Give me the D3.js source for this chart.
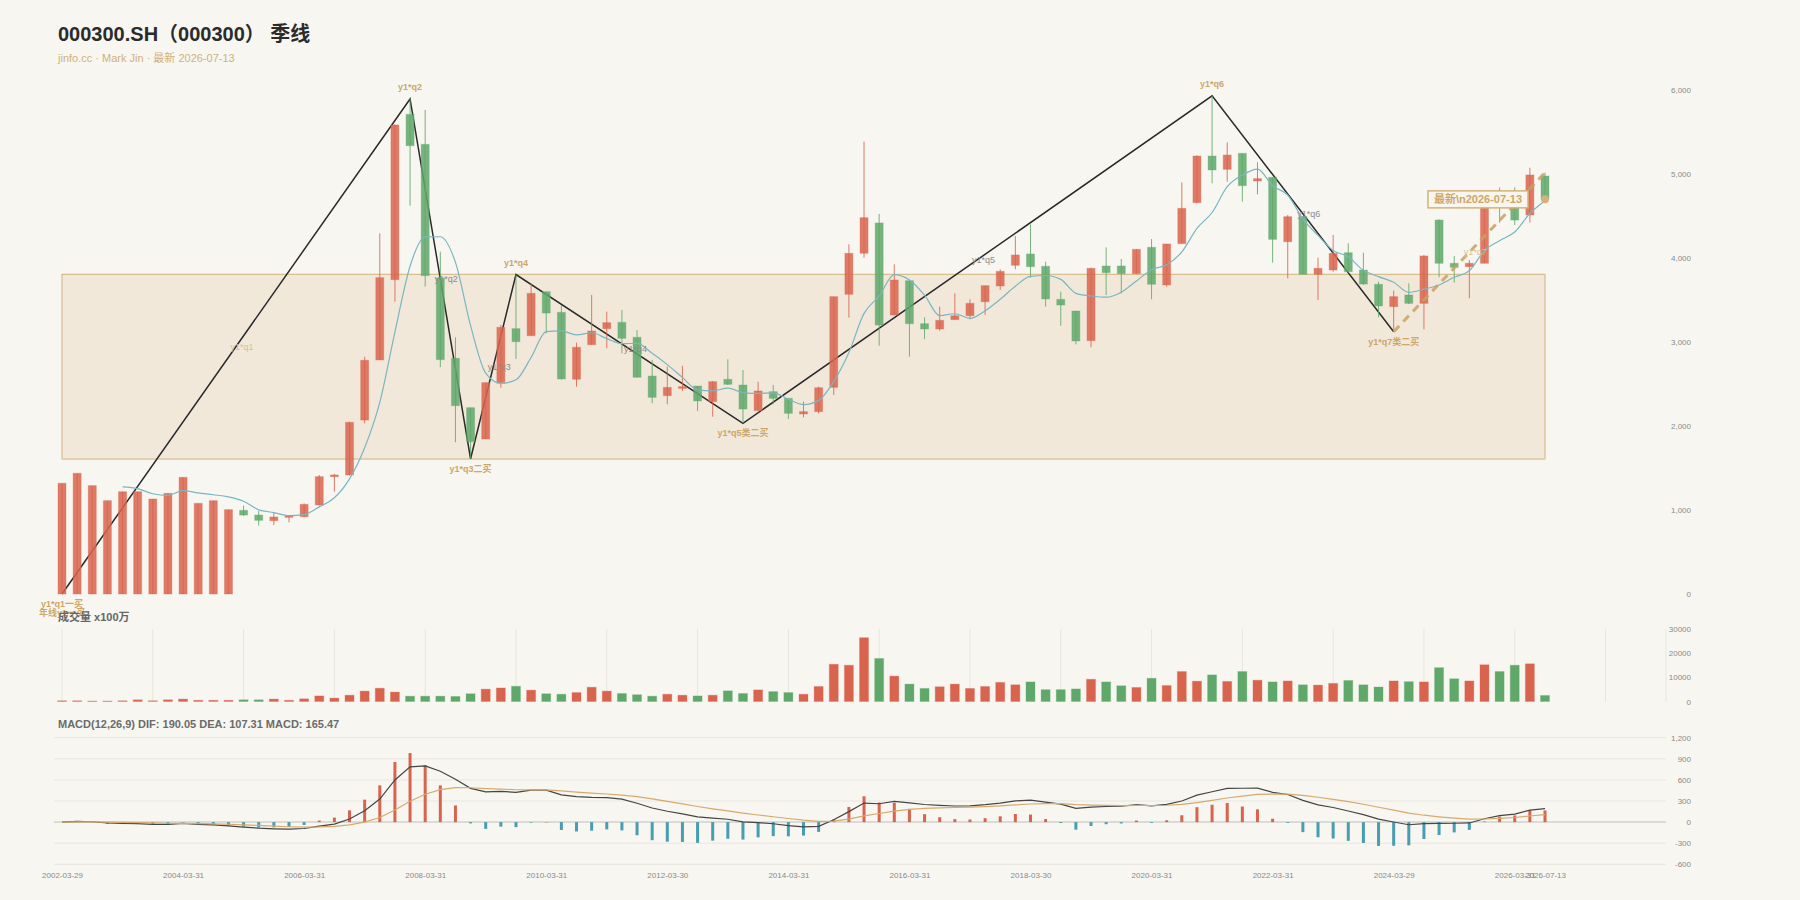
<!DOCTYPE html>
<html><head><meta charset="utf-8">
<script src="https://cdn.jsdelivr.net/npm/d3@7"></script>
<style>
body{margin:0;background:#f7f6f1;}
svg{display:block;font-family:"Liberation Sans",Arial,"Noto Sans CJK SC",sans-serif;}
</style></head><body><svg id="c" width="1800" height="900"></svg>
<script>
const dates=["2002-03-29","2002-06-28","2002-09-27","2002-12-31","2003-03-31","2003-06-30","2003-09-30","2003-12-31","2004-03-31","2004-06-30","2004-09-30","2004-12-31","2005-03-31","2005-06-30","2005-09-30","2005-12-30","2006-03-31","2006-06-30","2006-09-29","2006-12-29","2007-03-30","2007-06-29","2007-09-28","2007-12-28","2008-03-31","2008-06-30","2008-09-30","2008-12-31","2009-03-31","2009-06-30","2009-09-30","2009-12-31","2010-03-31","2010-06-30","2010-09-30","2010-12-31","2011-03-31","2011-06-30","2011-09-30","2011-12-30","2012-03-30","2012-06-29","2012-09-28","2012-12-31","2013-03-29","2013-06-28","2013-09-30","2013-12-31","2014-03-31","2014-06-30","2014-09-30","2014-12-31","2015-03-31","2015-06-30","2015-09-30","2015-12-31","2016-03-31","2016-06-30","2016-09-30","2016-12-30","2017-03-31","2017-06-30","2017-09-29","2017-12-29","2018-03-30","2018-06-29","2018-09-28","2018-12-28","2019-03-29","2019-06-28","2019-09-30","2019-12-31","2020-03-31","2020-06-30","2020-09-30","2020-12-31","2021-03-31","2021-06-30","2021-09-30","2021-12-31","2022-03-31","2022-06-30","2022-09-30","2022-12-30","2023-03-31","2023-06-30","2023-09-28","2023-12-29","2024-03-29","2024-06-28","2024-09-30","2024-12-31","2025-03-31","2025-06-30","2025-09-30","2025-12-31","2026-03-31","2026-06-30","2026-07-13"];
const opens=[0,0,0,0,0,0,0,0,0,0,0,0,996,940,873,913,921,1060,1397,1417,2071,2786,3742,5710,5353,3762,2806,2218,1845,2516,3159,3075,3599,3353,2556,2968,3159,3234,3056,2595,2361,2448,2476,2290,2556,2488,2183,2409,2329,2143,2171,2460,3568,4056,4417,3321,3730,3218,3155,3266,3313,3480,3667,3913,4048,3901,3508,3369,3016,3905,3905,3813,4127,3679,4171,4659,5214,5056,5246,4917,4960,4194,4492,3806,3857,4063,3857,3687,3421,3560,3460,4452,3937,3897,3937,4760,4690,4512,4976];
const closes=[1318,1437,1290,1111,1218,1218,1131,1198,1389,1079,1111,1004,940,877,917,929,1067,1397,1417,2044,2782,3766,5583,5337,3790,2790,2242,1813,2516,3175,3004,3579,3345,2560,2937,3131,3230,3044,2580,2341,2460,2468,2298,2528,2496,2202,2417,2329,2151,2171,2456,3540,4056,4480,3202,3738,3218,3155,3258,3313,3460,3671,3841,4036,3897,3512,3440,3012,3877,3825,3813,4103,3687,4167,4591,5214,5048,5226,4861,4945,4222,4492,3806,3877,4056,3837,3690,3429,3540,3460,4024,3937,3889,3937,4650,4620,4452,4988,4698];
const highs=[1318,1437,1290,1111,1218,1218,1131,1198,1389,1079,1111,1004,1052,988,968,940,1079,1417,1429,2052,2825,4294,5591,5893,5762,4075,3056,2220,2516,3202,3803,3698,3599,3440,2992,3560,3361,3381,3143,2786,2706,2718,2476,2536,2794,2667,2528,2488,2329,2290,2468,3540,4163,5385,4524,3925,3730,3294,3421,3579,3508,3671,3865,4262,4401,3956,3599,3369,3885,4127,3988,4103,4226,4167,4901,5222,5930,5377,5246,5139,4960,4512,4492,4004,4274,4175,4063,3718,3611,3698,4036,4460,4024,3976,4660,4840,4841,5075,5016];
const lows=[0,0,0,0,0,0,0,0,0,0,0,0,929,813,821,853,913,1052,1218,1409,2032,2786,3480,4623,3659,2700,1806,1610,1845,2456,2798,3075,3103,2552,2468,2968,2925,2865,2580,2270,2258,2417,2179,2111,2488,2032,2183,2258,2083,2103,2151,2369,3290,4004,2956,3321,2825,3032,3135,3266,3270,3321,3619,3865,3766,3421,3194,2972,2937,3560,3579,3813,3508,3659,4171,4651,4889,4909,4671,4758,3944,3758,3806,3500,3837,3825,3679,3294,3123,3452,3151,3770,3706,3520,3937,4420,4393,4421,4698];
const volumes=[300,300,200,200,300,700,300,700,1000,500,500,500,700,700,1000,500,1100,2300,1400,2600,4300,5500,3900,2200,2200,2200,2100,3200,5100,5600,6300,4700,3200,3000,3700,5900,4300,3300,2800,2200,3000,2600,2300,2600,4400,3300,4800,4100,3700,3000,6200,15400,15000,26400,17800,10500,7200,5400,6100,7200,5400,6200,7900,6900,8100,4900,4900,5200,9200,8100,6500,5800,9600,6600,12400,8400,11000,8300,12400,8800,8100,8500,6900,6800,7500,8700,6900,6000,8500,8200,8100,14000,9400,8500,15200,12400,15000,15600,2500];

const priceTicks=[0,1000,2000,3000,4000,5000,6000];
const volTicks=[0,10000,20000,30000];
const macdTicks=[-600,-300,0,300,600,900,1200];
const xLabelDates=["2002-03-29","2004-03-31","2006-03-31","2008-03-31","2010-03-31","2012-03-30","2014-03-31","2016-03-31","2018-03-30","2020-03-31","2022-03-31","2024-03-29","2026-03-31","2026-07-13"];

const zzDates=["2002-03-29","2007-12-28","2008-12-31","2009-09-30","2013-06-28","2021-03-31","2024-03-29"];
const zzValues=[0,5893,1610,3803,2032,5930,3123];
const zzLabels=["y1*q1一买","y1*q2","y1*q3二买","y1*q4","y1*q5类二买","y1*q6","y1*q7类二买"];
const segLabels=["y1*q1","y1*q2","y1*q3","y1*q4","y1*q5","y1*q6","y1*q7"];
const pendingDate="2026-07-13", pendingValue=5016;
const yearLabel="年线y1一买";
const zoneRange=[1607,3806];
const titleText="000300.SH（000300） 季线";
const subText="jinfo.cc · Mark Jin · 最新 2026-07-13";
const macdText="MACD(12,26,9) DIF: 190.05 DEA: 107.31 MACD: 165.47";
const volText="成交量 x100万";
const latestText="最新\\n2026-07-13";

const UP="#d9644e", DN="#5fa86a", TAN="#cda76a";
const svg=d3.select("#c");
svg.append("rect").attr("width",1800).attr("height",900).attr("fill","#f7f6f1");

const x=d3.scalePoint().domain(dates).range([62,1545]);
const step=x.step();
const yP=d3.scaleLinear().domain([0,6000]).range([594,90]);
const yV=d3.scaleLinear().domain([0,30000]).range([701.5,629]);
const yM=d3.scaleLinear().domain([-600,1200]).range([864.3,737.7]);
const gridL=54, gridR=1666;
const loc=d3.formatLocale({decimal:".",thousands:",",grouping:[3],currency:["",""],minus:"-"});
const fmtC=loc.format(","), fmtD=loc.format("d");

// titles
svg.append("text").attr("x",58).attr("y",41).attr("font-size",20).attr("font-weight","bold").attr("fill","#2b2b2b").text(titleText);
svg.append("text").attr("x",58).attr("y",62).attr("font-size",11).attr("fill","#d2b07a").text(subText);

// mark area
const zone=svg.append("g");
zone.append("rect").attr("x",x(dates[0])).attr("y",yP(zoneRange[1]))
  .attr("width",x(dates[dates.length-1])-x(dates[0])).attr("height",yP(zoneRange[0])-yP(zoneRange[1]))
  .attr("fill","#f1e8da").attr("stroke","#d2b27c").attr("stroke-width",1);
zone.append("line").attr("x1",x(dates[0])).attr("x2",x(dates[dates.length-1]))
  .attr("y1",yP(zoneRange[0])).attr("y2",yP(zoneRange[0])).attr("stroke","#e2d1b0").attr("stroke-width",2);

// zigzag line
const zzPts=zzDates.map((d,i)=>[x(d),yP(zzValues[i])]);
svg.append("path").attr("d",d3.line()(zzPts)).attr("fill","none").attr("stroke","#2a2a2a").attr("stroke-width",1.5);

// candles
const idx=d3.range(dates.length);
const cw=8;
const cg=svg.append("g");
idx.forEach(i=>{
  const col=closes[i]>=opens[i]?UP:DN;
  const cx=x(dates[i]);
  cg.append("line").attr("x1",cx).attr("x2",cx).attr("y1",yP(highs[i])).attr("y2",yP(lows[i]))
    .attr("stroke",col).attr("stroke-opacity",0.85).attr("stroke-width",1);
  const top=yP(Math.max(opens[i],closes[i])), bot=yP(Math.min(opens[i],closes[i]));
  cg.append("rect").attr("x",cx-cw/2).attr("y",top).attr("width",cw).attr("height",Math.max(1,bot-top))
    .attr("fill",col).attr("fill-opacity",0.85).attr("stroke",col).attr("stroke-opacity",0.35).attr("stroke-width",1);
});

// MA5
const ma=closes.map((c,i)=>i<4?null:d3.mean(closes.slice(i-4,i+1)));
svg.append("path").datum(idx)
  .attr("d",d3.line().defined(i=>ma[i]!=null).x(i=>x(dates[i])).y(i=>yP(ma[i])).curve(d3.curveMonotoneX))
  .attr("fill","none").attr("stroke","#7ab6c1").attr("stroke-width",1.2);

// pending dashed
svg.append("line").attr("x1",x(zzDates[zzDates.length-1])).attr("y1",yP(zzValues[zzValues.length-1]))
  .attr("x2",x(pendingDate)).attr("y2",yP(pendingValue))
  .attr("stroke","#c9a063").attr("stroke-width",3).attr("stroke-dasharray","8,6").attr("stroke-opacity",0.85);

// point labels
zzPts.forEach((p,i)=>{
  const prev=i>0?zzValues[i-1]:-Infinity, next=i<zzValues.length-1?zzValues[i+1]:pendingValue;
  const peak=zzValues[i]>prev && zzValues[i]>next;
  svg.append("text").attr("x",p[0]).attr("y",peak?p[1]-12:p[1]+10).attr("dy",".35em")
    .attr("text-anchor","middle").attr("font-size",9).attr("font-weight","bold").attr("fill",TAN).text(zzLabels[i]);
});
svg.append("text").attr("x",zzPts[0][0]).attr("y",zzPts[0][1]+19).attr("dy",".35em")
  .attr("text-anchor","middle").attr("font-size",9).attr("font-weight","bold").attr("fill",TAN).text(yearLabel);

// segment labels
const allPts=zzPts.concat([[x(pendingDate),yP(pendingValue)]]);
segLabels.forEach((t,i)=>{
  const a=allPts[i], b=allPts[i+1];
  const tanCol=(i===0||i===segLabels.length-1);
  svg.append("text").attr("x",(a[0]+b[0])/2+6).attr("y",(a[1]+b[1])/2).attr("dy",".35em")
    .attr("text-anchor","middle").attr("font-size",9).attr("fill",tanCol?"#d9bf90":"#8c8c8c").text(t);
});

// latest dot + label
const lx=x(dates[dates.length-1]), ly=yP(closes[closes.length-1]);
svg.append("circle").attr("cx",lx).attr("cy",ly).attr("r",4).attr("fill","#d4b27a");
const lb=svg.append("g");
const lt=lb.append("text").attr("font-size",11).attr("font-weight","bold").attr("fill",TAN).attr("dy",".35em").text(latestText);
const tw=lt.node().getComputedTextLength();
const bw=tw+12, bh=17;
lb.insert("rect","text").attr("x",lx-17-bw).attr("y",ly-bh/2).attr("width",bw).attr("height",bh)
  .attr("fill","#f8f5ed").attr("stroke","#d4b27a").attr("stroke-width",1.5);
lt.attr("x",lx-17-bw/2).attr("y",ly).attr("text-anchor","middle");

// main y axis
const ax=svg.append("g").attr("transform","translate(1691,0)")
  .call(d3.axisLeft(yP).tickValues(priceTicks).tickSize(0).tickPadding(0).tickFormat(fmtC));
ax.select(".domain").remove();
ax.selectAll("text").attr("font-size",8).attr("fill","#8a8a8a").attr("font-family",null);

// volume panel
svg.append("text").attr("x",58).attr("y",621).attr("font-size",11).attr("font-weight","bold").attr("fill","#666").text(volText);
const vg=svg.append("g");
for(let k=0;k*step*6+x(dates[0])<=gridR-20;k++){
  const gx=x(dates[0])+k*6*step;
  vg.append("line").attr("x1",gx).attr("x2",gx).attr("y1",yV(30000)).attr("y2",yV(0)).attr("stroke","#e8e5de").attr("stroke-width",1);
}
vg.append("line").attr("x1",gridR).attr("x2",gridR).attr("y1",yV(30000)).attr("y2",yV(0)).attr("stroke","#e8e5de");
idx.forEach(i=>{
  const col=closes[i]>=opens[i]?UP:DN;
  vg.append("rect").attr("x",x(dates[i])-4.5).attr("y",yV(volumes[i])).attr("width",9)
    .attr("height",yV(0)-yV(volumes[i])).attr("fill",col).attr("stroke",col).attr("stroke-opacity",0.3).attr("stroke-width",1);
});
const av=svg.append("g").attr("transform","translate(1691,0)")
  .call(d3.axisLeft(yV).tickValues(volTicks).tickSize(0).tickPadding(0).tickFormat(fmtD));
av.select(".domain").remove();
av.selectAll("text").attr("font-size",8).attr("fill","#8a8a8a").attr("font-family",null);

// MACD
function ema(arr,n){const a=2/(n+1);const out=[];arr.forEach((v,i)=>out.push(i===0?v:out[i-1]+a*(v-out[i-1])));return out;}
const e12=ema(closes,12), e26=ema(closes,26);
const dif=closes.map((c,i)=>e12[i]-e26[i]);
const dea=ema(dif,9);
const hist=dif.map((d,i)=>2*(d-dea[i]));

svg.append("text").attr("x",58).attr("y",728).attr("font-size",11).attr("font-weight","bold").attr("fill","#6b6b6b").text(macdText);
const mg=svg.append("g");
macdTicks.forEach(t=>{
  mg.append("line").attr("x1",gridL).attr("x2",gridR).attr("y1",yM(t)).attr("y2",yM(t))
    .attr("stroke",t===0?"#dcdad4":"#e9e6df").attr("stroke-width",t===0?2:1);
});
idx.forEach(i=>{
  const v=hist[i];
  mg.append("rect").attr("x",x(dates[i])-1.5).attr("y",Math.min(yM(v),yM(0))).attr("width",3)
    .attr("height",Math.abs(yM(v)-yM(0))).attr("fill",v>=0?UP:"#4a9db0");
});
mg.append("path").datum(idx).attr("d",d3.line().x(i=>x(dates[i])).y(i=>yM(dif[i])))
  .attr("fill","none").attr("stroke","#454545").attr("stroke-width",1.2);
mg.append("path").datum(idx).attr("d",d3.line().x(i=>x(dates[i])).y(i=>yM(dea[i])))
  .attr("fill","none").attr("stroke","#d6aa6c").attr("stroke-width",1.2);
const am=svg.append("g").attr("transform","translate(1691,0)")
  .call(d3.axisLeft(yM).tickValues(macdTicks).tickSize(0).tickPadding(0).tickFormat(fmtC));
am.select(".domain").remove();
am.selectAll("text").attr("font-size",8).attr("fill","#8a8a8a").attr("font-family",null);

// x axis
const xa=svg.append("g").attr("transform","translate(0,872)")
  .call(d3.axisBottom(x).tickValues(xLabelDates).tickSize(0).tickPadding(0));
xa.select(".domain").remove();
xa.selectAll("text").attr("font-size",8).attr("fill","#8a8a8a").attr("font-family",null);
</script></body></html>
